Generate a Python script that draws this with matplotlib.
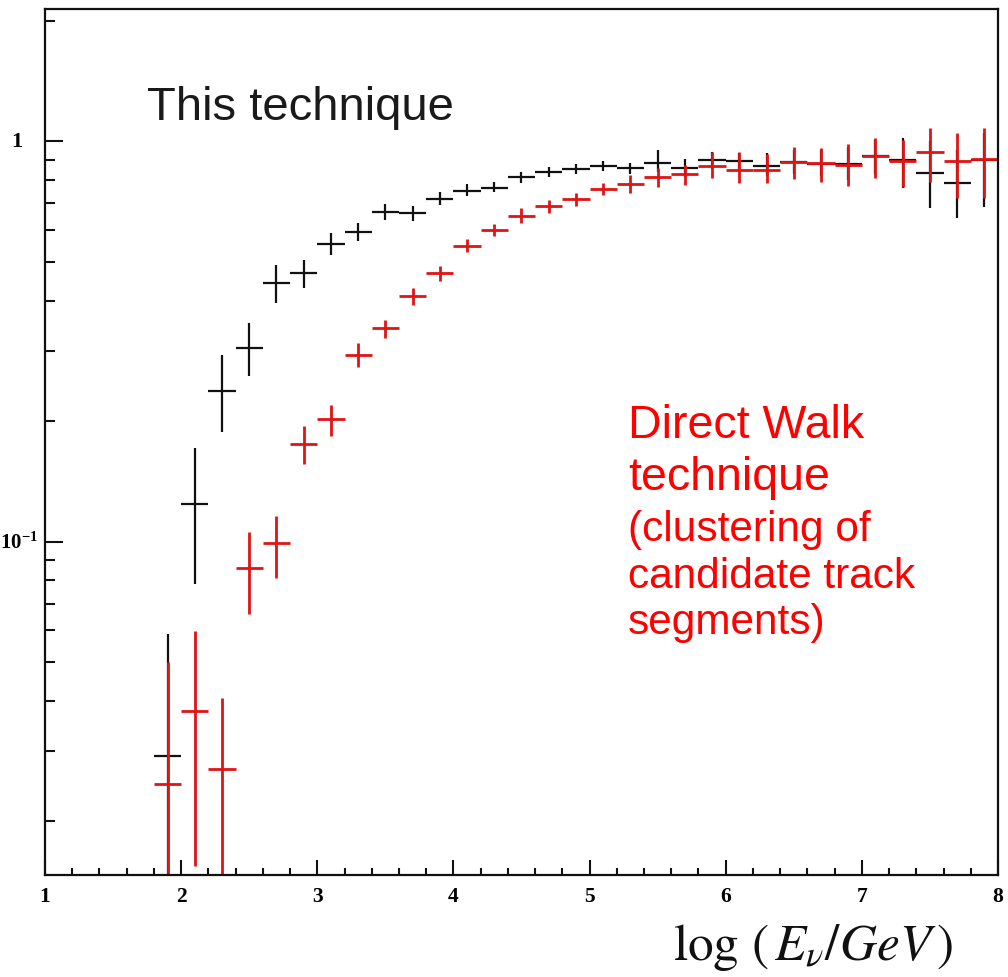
import matplotlib
matplotlib.use('Agg')
import matplotlib.pyplot as plt
import matplotlib.transforms as mtransforms
from matplotlib.ticker import FixedLocator, LogLocator, NullFormatter, MultipleLocator
import numpy as np

# ---- data: efficiency vs log(E/GeV), bin centres and bin half-width ----
bin_centres = np.round(np.arange(1.9, 8.0, 0.2), 1)
bin_half = 0.1

# "This technique" (black)
black_y = [0.0292, 0.124, 0.238, 0.305, 0.443, 0.468, 0.554, 0.594, 0.667, 0.661,
           0.718, 0.753, 0.766, 0.813, 0.839, 0.851, 0.868, 0.856, 0.881, 0.859,
           0.898, 0.893, 0.868, 0.890, 0.880, 0.880, 0.920, 0.900, 0.832, 0.788, 0.900]
black_lo = [0.005, 0.0785, 0.188, 0.259, 0.394, 0.429, 0.520, 0.562, 0.636, 0.633,
            0.693, 0.731, 0.745, 0.788, 0.815, 0.828, 0.843, 0.830, 0.840, 0.815,
            0.855, 0.850, 0.818, 0.830, 0.820, 0.800, 0.830, 0.763, 0.680, 0.642, 0.684]
black_hi = [0.0589, 0.171, 0.292, 0.351, 0.491, 0.504, 0.589, 0.624, 0.696, 0.690,
            0.746, 0.780, 0.790, 0.840, 0.862, 0.875, 0.893, 0.885, 0.950, 0.905,
            0.940, 0.935, 0.933, 0.950, 0.950, 0.970, 1.010, 1.020, 1.000, 0.950, 1.050]

# "Direct Walk technique" (red)
red_y = [0.0248, 0.0378, 0.0271, 0.0861, 0.0994, 0.175, 0.202, 0.292, 0.341, 0.411,
         0.468, 0.547, 0.600, 0.650, 0.688, 0.718, 0.759, 0.781, 0.816, 0.827,
         0.868, 0.848, 0.848, 0.889, 0.882, 0.873, 0.919, 0.895, 0.942, 0.893, 0.902]
red_lo = [0.005, 0.0155, 0.005, 0.066, 0.0813, 0.156, 0.184, 0.273, 0.322, 0.391,
          0.449, 0.528, 0.580, 0.624, 0.661, 0.691, 0.734, 0.741, 0.770, 0.778,
          0.808, 0.785, 0.785, 0.805, 0.790, 0.775, 0.811, 0.770, 0.790, 0.720, 0.720]
red_hi = [0.0501, 0.0599, 0.0407, 0.106, 0.116, 0.194, 0.219, 0.313, 0.358, 0.429,
          0.489, 0.569, 0.621, 0.680, 0.714, 0.741, 0.785, 0.824, 0.856, 0.872,
          0.942, 0.942, 0.928, 0.970, 0.960, 0.983, 1.017, 1.007, 1.080, 1.047, 1.077]

y_tick_vals = [0.1, 1.0]
y_tick_text = [r'$10^{-1}$', '1']
x_tick_vals = [1, 2, 3, 4, 5, 6, 7, 8]

plt.rcParams['mathtext.fontset'] = 'custom'
plt.rcParams['mathtext.rm'] = 'Liberation Serif:bold'
plt.rcParams['mathtext.bf'] = 'Liberation Serif:bold'
plt.rcParams['mathtext.it'] = 'Liberation Serif:italic:bold'

W, H = 1008, 978
fig = plt.figure(figsize=(W / 100, H / 100), dpi=100)
ax = fig.add_axes([45 / W, 1 - 876 / H, 953 / W, 866 / H])


def yerr(y, lo, hi):
    y, lo, hi = np.array(y), np.array(lo), np.array(hi)
    return [y - lo, hi - y]


ax.errorbar(bin_centres, black_y, xerr=bin_half, yerr=yerr(black_y, black_lo, black_hi),
            fmt='none', ecolor='#111111', elinewidth=1.6, capsize=0)
ax.errorbar(bin_centres, red_y, xerr=bin_half, yerr=yerr(red_y, red_lo, red_hi),
            fmt='none', ecolor='#e01414', elinewidth=2.0, capsize=0)

ax.set_yscale('log')
ax.set_xlim(1, 8)
ax.set_ylim(0.0147, 2.14)

# ticks (inward, left/bottom only)
ax.xaxis.set_major_locator(FixedLocator(x_tick_vals))
ax.xaxis.set_minor_locator(MultipleLocator(0.2))
ax.yaxis.set_major_locator(FixedLocator(y_tick_vals))
ax.yaxis.set_minor_locator(LogLocator(base=10, subs=np.arange(2, 10)))
ax.yaxis.set_major_formatter(NullFormatter())
ax.yaxis.set_minor_formatter(NullFormatter())
ax.tick_params(which='both', direction='in', top=False, right=False, width=1.5, color='#111111')
ax.tick_params(axis='x', which='major', length=11, pad=8)
ax.tick_params(axis='x', which='minor', length=5)
ax.tick_params(axis='y', which='major', length=13)
ax.tick_params(axis='y', which='minor', length=7)
ax.set_xticklabels([str(v) for v in x_tick_vals], fontfamily='Liberation Serif',
                   fontweight='bold', fontsize=15.5)

for s in ax.spines.values():
    s.set_linewidth(1.6)
    s.set_color('#111111')

# y tick labels placed by hand (ROOT-style offsets)
trans = mtransforms.blended_transform_factory(ax.transAxes, ax.transData)
ax.text(-0.0073, y_tick_vals[0], y_tick_text[0], transform=trans, ha='right', va='center',
        fontsize=15, clip_on=False)
ax.text(-0.0241, y_tick_vals[1], y_tick_text[1], transform=trans, ha='right', va='center',
        fontsize=16, fontfamily='Liberation Serif', fontweight='bold', clip_on=False)


def fx(px):
    return px / W


def fy(py):
    return 1 - py / H


# annotations
fig.text(fx(147), fy(120), 'This technique', fontsize=34, color='#1a1a1a',
         fontfamily='Liberation Sans', va='baseline')
red_lines = [('Direct Walk', 438, 33.5), ('technique', 490, 33.5),
             ('(clustering of', 541, 30.5), ('candidate track', 588, 30.5),
             ('segments)', 634, 30.5)]
for txt, base, fs in red_lines:
    fig.text(fx(628), fy(base), txt, fontsize=fs, color='#ff0000',
             fontfamily='Liberation Sans', va='baseline')

# x axis title
fig.text(fx(813), fy(960), r'$\log\,(\,E_{\nu}/GeV\,)$', fontsize=37, ha='center',
         va='baseline', math_fontfamily='stix', color='#111111')

plt.savefig('out.png', dpi=100)
